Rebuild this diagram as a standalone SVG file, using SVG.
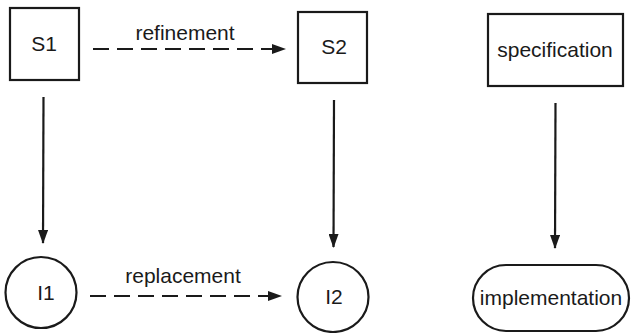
<svg xmlns="http://www.w3.org/2000/svg" width="631" height="333" viewBox="0 0 631 333">
  <style>
    .shape { fill: #fff; stroke: #1a1a1a; stroke-width: 2.2; }
    .lbl { font-family: "Liberation Sans", Arial, sans-serif; font-size: 21px; fill: #1a1a1a; text-anchor: middle; }
    .edge { fill: none; stroke: #1a1a1a; stroke-width: 2.2; }
    .dash { stroke-dasharray: 16 8; }
  </style>
  <defs>
    <marker id="arrow" viewBox="0 0 14 10" refX="13" refY="5" markerWidth="14" markerHeight="10" markerUnits="userSpaceOnUse" orient="auto">
      <path d="M0,0 L14,5 L0,10 Z" fill="#1a1a1a"/>
    </marker>
  </defs>
  <rect width="631" height="333" fill="#fff"/>

  <g id="connectors">
    <line class="edge dash" x1="93" y1="49" x2="285" y2="49" marker-end="url(#arrow)"/>
    <line class="edge dash" x1="90" y1="296" x2="281" y2="296" marker-end="url(#arrow)"/>
    <line class="edge" x1="43.5" y1="97" x2="43" y2="243" marker-end="url(#arrow)"/>
    <line class="edge" x1="334" y1="100" x2="333.5" y2="247" marker-end="url(#arrow)"/>
    <line class="edge" x1="555.5" y1="103" x2="555" y2="248" marker-end="url(#arrow)"/>
    <text class="lbl" x="185" y="40">refinement</text>
    <text class="lbl" x="183" y="283">replacement</text>
  </g>

  <g id="S1">
    <rect class="shape" x="10" y="8" width="69" height="72"/>
    <text class="lbl" x="44" y="51">S1</text>
  </g>
  <g id="S2">
    <rect class="shape" x="298" y="12" width="69" height="71"/>
    <text class="lbl" x="334" y="54">S2</text>
  </g>
  <g id="specification">
    <rect class="shape" x="488" y="14" width="135" height="72"/>
    <text class="lbl" x="555" y="57">specification</text>
  </g>
  <g id="I1">
    <circle class="shape" cx="41" cy="292.5" r="35.5"/>
    <text class="lbl" x="46" y="300">I1</text>
  </g>
  <g id="I2">
    <ellipse class="shape" cx="333" cy="297" rx="35.5" ry="35"/>
    <text class="lbl" x="334" y="304">I2</text>
  </g>
  <g id="implementation">
    <rect class="shape" x="473" y="265" width="156" height="66" rx="33" ry="33"/>
    <text class="lbl" x="551" y="305">implementation</text>
  </g>
</svg>
